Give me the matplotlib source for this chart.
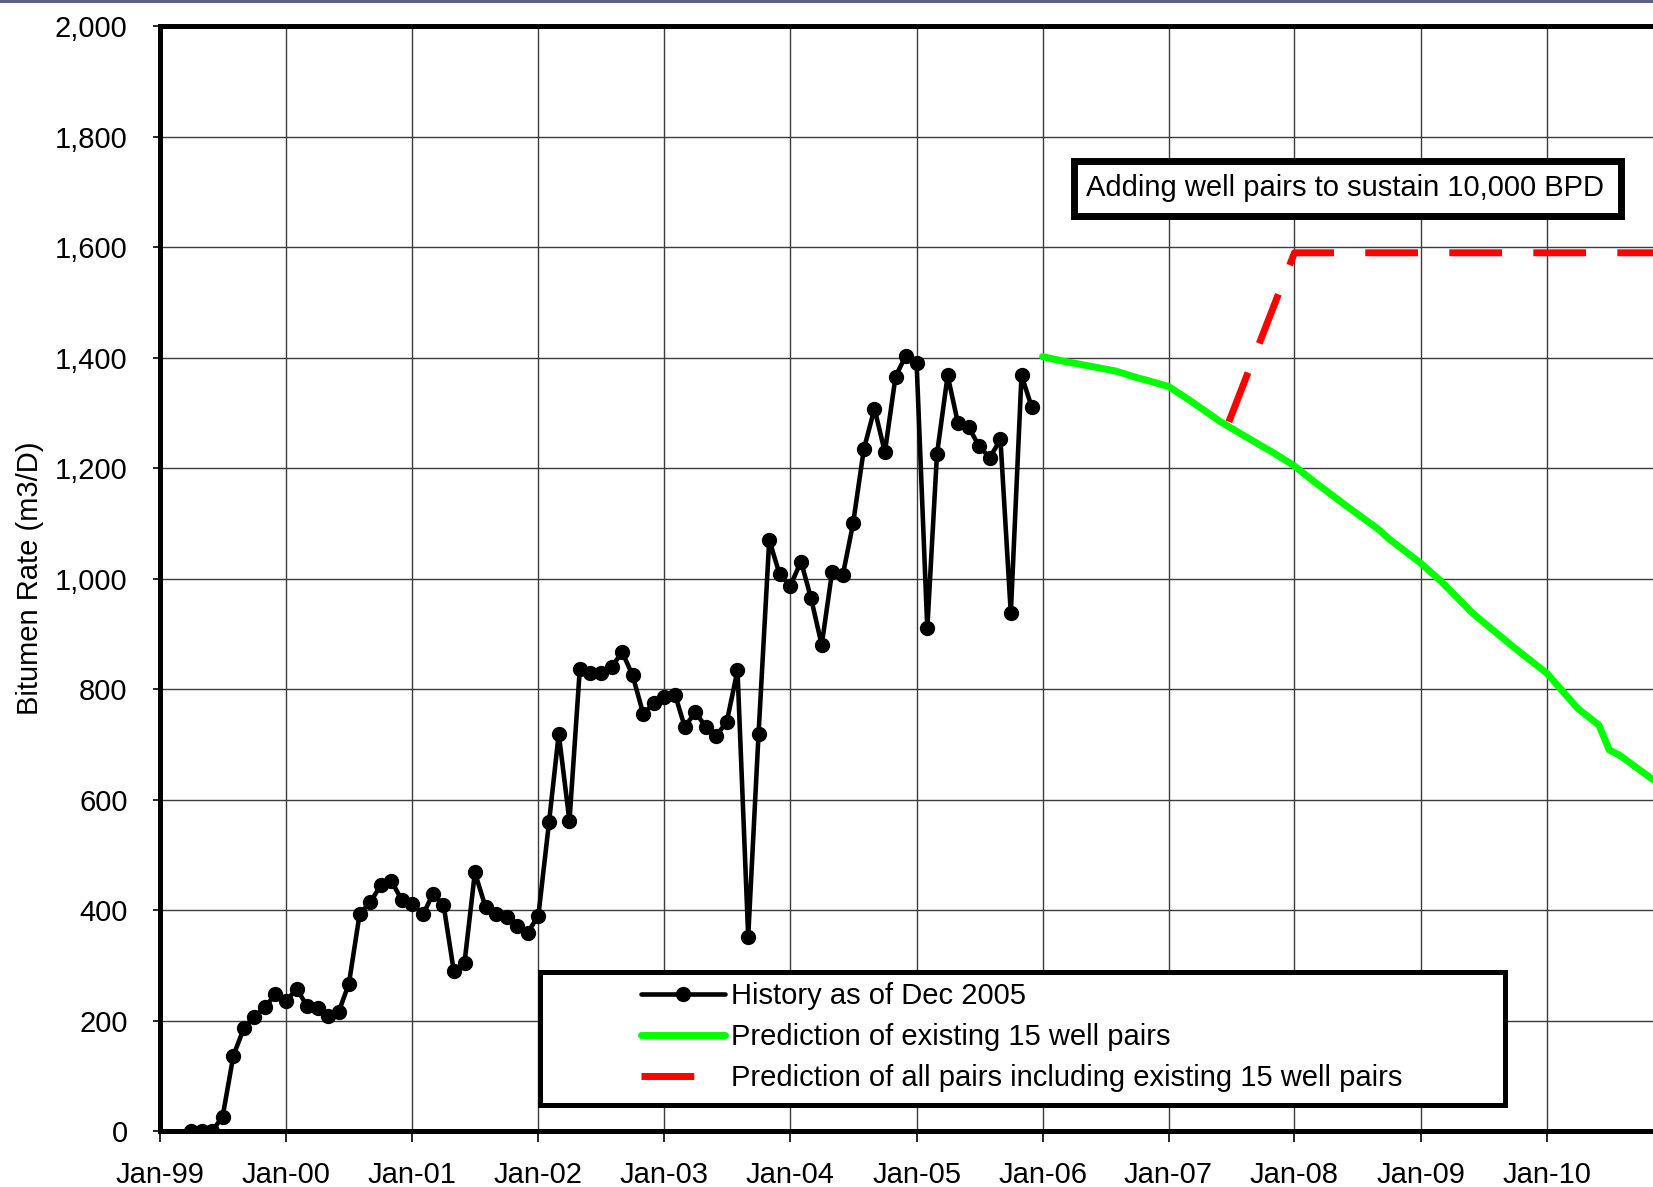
import matplotlib
matplotlib.use('Agg')
import matplotlib.pyplot as plt
import matplotlib.dates as mdates
from matplotlib.patches import Rectangle
from matplotlib.ticker import FuncFormatter, MultipleLocator
import pandas as pd

plt.rcParams['font.family'] = ['Liberation Sans', 'DejaVu Sans']

# ---------------- data ----------------
history_start = '1999-04-01'
history_values = [
    0, 0, 0, 26, 136, 187, 207, 224, 248,                       # 1999 Apr-Dec
    236, 257, 227, 222, 209, 215, 267, 393, 414, 445, 453, 418,   # 2000
    411, 392, 429, 410, 289, 305, 468, 405, 393, 388, 372, 359,   # 2001
    390, 560, 719, 561, 836, 830, 830, 840, 867, 825, 755, 774,   # 2002
    785, 790, 732, 758, 732, 716, 741, 834, 352, 719, 1070, 1008, # 2003
    987, 1031, 965, 880, 1012, 1006, 1100, 1234, 1308, 1229, 1366, 1404,  # 2004
    1391, 910, 1225, 1368, 1281, 1274, 1240, 1219, 1252, 937, 1368, 1310, # 2005
]

pred_existing_dates = [
    '2006-01-01', '2006-03-01', '2006-08-01', '2006-10-01', '2006-11-01',
    '2007-01-01', '2007-03-01', '2007-06-01', '2007-10-01', '2007-11-01',
    '2008-01-01', '2008-02-20', '2008-06-01', '2008-09-01', '2008-10-01',
    '2009-01-01', '2009-03-01', '2009-06-01', '2009-10-01', '2010-01-01',
    '2010-02-01', '2010-04-01', '2010-06-01', '2010-07-01', '2010-08-01',
    '2010-11-01', '2010-12-01',
]
pred_existing_values = [
    1402, 1394, 1376, 1364, 1359,
    1348, 1324, 1284, 1239, 1228,
    1204, 1179, 1131, 1089, 1072,
    1028, 995, 937, 874, 829,
    807, 765, 735, 690, 680,
    638, 626,
]

pred_all_dates = ['2007-06-25', '2008-01-01', '2010-12-01']
pred_all_values = [1284, 1590, 1590]

series_labels = [
    'History as of Dec 2005',
    'Prediction of existing 15 well pairs',
    'Prediction of all pairs including existing 15 well pairs',
]
annotation_text = 'Adding well pairs to sustain 10,000 BPD'
y_label = 'Bitumen Rate (m3/D)'

# ---------------- figure ----------------
history_dates = pd.date_range(history_start, periods=len(history_values), freq='MS')
pe_dates = pd.to_datetime(pred_existing_dates)
pa_dates = pd.to_datetime(pred_all_dates)

fig = plt.figure(figsize=(16.53, 11.87), dpi=100)
fig.add_artist(Rectangle((0, 1 - 3 / 1187), 1, 3 / 1187, transform=fig.transFigure,
                         color='#5f5f8c', lw=0))

ax = fig.add_axes([0.0969, 0.0472, 0.9031, 0.9306])

h1, = ax.plot(history_dates, history_values, color='black', lw=3.3, marker='o',
              ms=10, solid_capstyle='round', zorder=3)
h2, = ax.plot(pe_dates, pred_existing_values, color='#00ff00', lw=5,
              solid_capstyle='round', solid_joinstyle='round', zorder=3)
h3, = ax.plot(pa_dates, pred_all_values, color='#ff0000', lw=5,
              dashes=(7.6, 4.5), dash_capstyle='butt', zorder=4)

ax.set_xlim(pd.Timestamp('1999-01-01'), pd.Timestamp('2010-11-05'))
ax.set_ylim(0, 2000)

ax.xaxis.set_major_locator(mdates.YearLocator())
ax.xaxis.set_major_formatter(mdates.DateFormatter('%b-%y'))
ax.yaxis.set_major_locator(MultipleLocator(200))
ax.yaxis.set_major_formatter(FuncFormatter(lambda v, p: f'{v:,.0f}'))

ax.grid(True, color='#3c3c3c', lw=1.0)
ax.set_axisbelow(True)

for s in ['left', 'top', 'bottom']:
    ax.spines[s].set_linewidth(3.6)
    ax.spines[s].set_color('black')
ax.spines['right'].set_visible(False)

ax.tick_params(axis='x', direction='out', length=8, width=1.2, pad=13.5,
               labelsize=21, colors='black')
ax.tick_params(axis='y', direction='out', length=5, width=1.2, pad=18.5,
               labelsize=21, colors='black')

ax.set_ylabel(y_label, fontsize=21)
ax.yaxis.set_label_coords(-0.078, 0.5)

# legend box
ax.add_patch(Rectangle((0.2545, 0.0235), 0.9009 - 0.2545, 0.1439 - 0.0235,
                       transform=ax.transAxes, fc='white', ec='black', lw=3.6,
                       zorder=5))
leg = ax.legend([h1, h2, h3], series_labels, loc='upper left',
                bbox_to_anchor=(0.322, 0.1351), frameon=False, fontsize=21,
                handlelength=2.88, handletextpad=0.2, labelspacing=0.45,
                borderpad=0, borderaxespad=0, numpoints=1)
leg.set_zorder(6)

# annotation box
ax.add_patch(Rectangle((0.6122, 0.8283), 0.3664, 0.0498, transform=ax.transAxes,
                       fc='white', ec='black', lw=5, zorder=5))
ax.text(0.794, 0.8537, annotation_text, transform=ax.transAxes, ha='center',
        va='center', fontsize=21, zorder=6)

fig.savefig('out.png', dpi=100)
